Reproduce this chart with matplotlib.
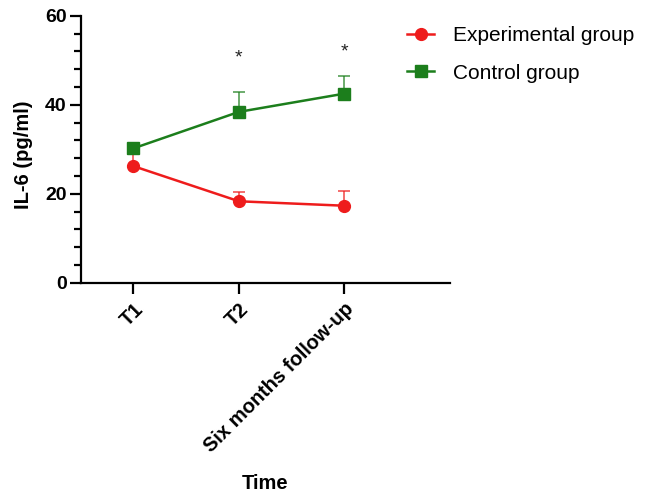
import numpy as np
import matplotlib
matplotlib.use("Agg")
import matplotlib.pyplot as plt

plt.rcParams["font.family"] = ["Liberation Sans", "DejaVu Sans"]

# --- data ---
timepoints = ["T1", "T2", "Six months follow-up"]
exp_mean = [26.2, 18.3, 17.3]
exp_err = [2.7, 2.1, 3.3]
ctrl_mean = [30.2, 38.4, 42.5]
ctrl_err = [0.8, 4.4, 3.9]
sig_marks = ["", "*", "*"]
sig_y = [0, 50.6, 51.8]

red = "#ee1c1c"
green = "#1c7e1c"

fig = plt.figure(figsize=(6.54, 4.93), dpi=100)
ax = fig.add_axes([0.1234, 0.4266, 0.5646, 0.5414])

x = np.arange(len(timepoints))

# upper-only error bars
ax.errorbar(x, exp_mean, yerr=[np.zeros(3), exp_err], fmt="none",
            ecolor=red, alpha=0.75, elinewidth=1.2, capsize=4, capthick=1.2, zorder=2)
ax.errorbar(x, ctrl_mean, yerr=[np.zeros(3), ctrl_err], fmt="none",
            ecolor=green, alpha=0.75, elinewidth=1.2, capsize=4, capthick=1.2, zorder=2)

ax.plot(x, exp_mean, color=red, marker="o", ms=8.5, lw=1.8,
        label="Experimental group", zorder=3)
ax.plot(x, ctrl_mean, color=green, marker="s", ms=8, lw=1.8,
        label="Control group", zorder=4)

for xi, s, yv in zip(x, sig_marks, sig_y):
    if s:
        ax.text(xi, yv, s, ha="center", va="center", fontsize=14, color="#222222")

ax.set_xlim(-0.5, 3.0)
ax.set_ylim(0, 60)
ax.set_yticks([0, 20, 40, 60])
ax.set_yticks(np.arange(0, 61, 4), minor=True)
ax.set_xticks(x)
ax.set_xticklabels(timepoints, rotation=45, ha="right", rotation_mode="anchor",
                   fontweight="bold", fontsize=14.5)
for lab in ax.get_yticklabels():
    lab.set_fontweight("bold")
    lab.set_fontsize(14)

for side in ["top", "right"]:
    ax.spines[side].set_visible(False)
for side in ["left", "bottom"]:
    ax.spines[side].set_linewidth(1.6)

ax.tick_params(axis="y", which="major", length=8, width=1.6, pad=2)
ax.tick_params(axis="y", which="minor", length=5, width=1.6)
ax.tick_params(axis="x", which="major", length=8, width=1.6, pad=4)

ax.set_ylabel("IL-6 (pg/ml)", fontsize=14.5, fontweight="bold")
ax.yaxis.set_label_coords(-0.129, 0.48)
ax.set_xlabel("Time", fontsize=14.5, fontweight="bold")
ax.xaxis.set_label_coords(0.5, -0.716)

fig.legend(loc="upper left", bbox_to_anchor=(407 / 654, 1 - 26 / 493),
           frameon=False, fontsize=15, handlelength=1.3, handletextpad=0.9,
           labelspacing=0.9, borderaxespad=0, borderpad=0)

fig.savefig("out.png", dpi=100)
